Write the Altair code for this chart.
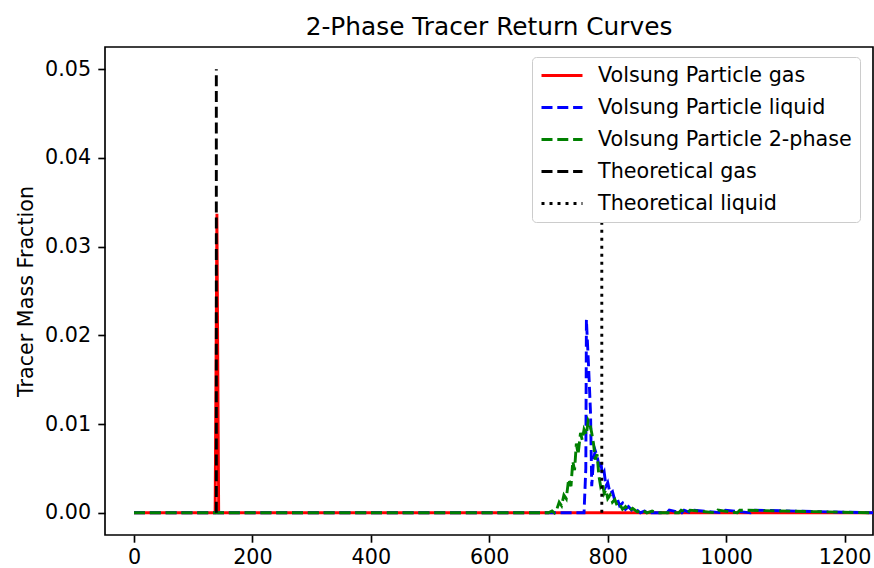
import altair as alt
import pandas as pd

# ---- data ----
series_names = [
    "Volsung Particle gas",
    "Volsung Particle liquid",
    "Volsung Particle 2-phase",
    "Theoretical gas",
    "Theoretical liquid",
]
series_colors = ["#ff0000", "#0000ff", "#008000", "#000000", "#000000"]

gas_t = [0, 137, 140, 143, 1248]
gas_v = [0, 0, 0.0337, 0, 0]

liq_t = [0, 760, 763, 764, 768, 771, 773, 776, 779, 782, 785, 788, 791, 794, 797,
         800, 804, 808, 812, 816, 820, 825, 830, 835, 842, 848, 855, 862, 870,
         900, 904, 925, 929, 940, 944, 995, 999, 1041, 1045, 1248]
liq_v = [0, 0, 0.0050, 0.0218, 0.0160, 0.0112, 0.0030, 0.0060, 0.0070, 0.0064,
         0.0054, 0.0060, 0.0042, 0.0046, 0.0030, 0.0034, 0.0022, 0.0024, 0.0014,
         0.0016, 0.0008, 0.0011, 0.0004, 0.0007, 0.0002, 0.0004, 0.0, 0.0002, 0.0,
         0.0, 0.0003, 0.0, 0.0003, 0.0, 0.0003, 0.0, 0.0003, 0.0, 0.0003, 0.0]

two_t = [0, 700, 706, 710, 714, 718, 722, 726, 730, 734, 738, 741, 744, 747, 750,
         754, 757, 760, 764, 767, 770, 773, 776, 779, 782, 785, 788, 791, 794, 797,
         800, 804, 808, 812, 816, 820, 825, 830, 836, 842, 850, 858, 866, 875, 885,
         920, 924, 935, 939, 982, 986, 1019, 1023, 1248]
two_v = [0, 0, 0.0002, 0, 0.0004, 0.0012, 0.0008, 0.0020, 0.0016, 0.0038, 0.0030,
         0.0058, 0.0048, 0.0078, 0.0066, 0.0090, 0.0082, 0.0094, 0.0088, 0.0104,
         0.0100, 0.0090, 0.0078, 0.0060, 0.0066, 0.0042, 0.0030, 0.0034, 0.0022,
         0.0026, 0.0016, 0.0020, 0.0012, 0.0015, 0.0008, 0.0010, 0.0004, 0.0007,
         0.0002, 0.0005, 0.0001, 0.0003, 0, 0.0002, 0, 0, 0.0003, 0, 0.0003, 0,
         0.0003, 0, 0.0003, 0]

theo_gas_t = [139, 139]
theo_gas_v = [0, 0.05]
theo_liq_t = [790, 790]
theo_liq_v = [0, 0.05]

x_ticks = [0, 200, 400, 600, 800, 1000, 1200]
y_ticks = [0.0, 0.01, 0.02, 0.03, 0.04, 0.05]

# ---- build table ----
rows = []
for name, ts, vs in zip(series_names,
                        [gas_t, liq_t, two_t, theo_gas_t, theo_liq_t],
                        [gas_v, liq_v, two_v, theo_gas_v, theo_liq_v]):
    for i, (t, v) in enumerate(zip(ts, vs)):
        rows.append({"series": name, "t": t, "v": v, "idx": i})
df = pd.DataFrame(rows)

FONT = "DejaVu Sans"
LW = 2.9
dash = [11.0, 4.8]
dot = [3.0, 5.0]


def make_legend():
    return alt.Legend(
        title=None, orient="none", legendX=427, legendY=10,
        symbolType="stroke", symbolSize=1681, symbolStrokeWidth=LW,
        labelFontSize=20.7, labelFont=FONT, labelColor="black", labelLimit=400,
        padding=8, rowPadding=10.0, clipHeight=21, labelOffset=14,
        fillColor="white", strokeColor="#cccccc",
        cornerRadius=4, zindex=1,
    )


color = alt.Color(
    "series:N",
    scale=alt.Scale(domain=series_names, range=series_colors),
    legend=make_legend(),
)
dash_enc = alt.StrokeDash(
    "series:N",
    scale=alt.Scale(domain=series_names, range=[[1, 0], dash, dash, dash, dot]),
    legend=make_legend(),
)

x_enc = alt.X("t:Q", scale=alt.Scale(domain=[-49, 1248], nice=False, zero=False),
              axis=alt.Axis(values=x_ticks, format="d", title=None, labelPadding=5.5))
y_enc = alt.Y("v:Q", scale=alt.Scale(domain=[-0.0025, 0.0525], nice=False, zero=False),
              axis=alt.Axis(values=y_ticks, format=".2f", title="Tracer Mass Fraction"))

layers = []
for name in series_names:
    layers.append(
        alt.Chart(df)
        .transform_filter(alt.datum.series == name)
        .mark_line(strokeWidth=LW, clip=True, strokeCap="butt")
        .encode(x=x_enc, y=y_enc, color=color, strokeDash=dash_enc,
                order=alt.Order("idx:Q"))
    )

chart = (
    alt.layer(*layers)
    .properties(
        width=768, height=488,
        title=alt.TitleParams("2-Phase Tracer Return Curves", fontSize=24.8, font=FONT,
                              fontWeight="normal", color="black", anchor="middle",
                              offset=7),
        autosize=alt.AutoSizeParams(type="none"),
        padding={"left": 105, "top": 47, "right": 1, "bottom": 33},
        background="white",
    )
    .configure_view(stroke="black", strokeWidth=1.66)
    .configure_axis(
        domain=False, grid=False, ticks=True, tickColor="black", tickSize=7.2,
        tickWidth=1.66, labelFont=FONT, labelFontSize=20.7, labelColor="black",
        labelPadding=7.2, titleFont=FONT, titleFontSize=20.7, titleColor="black",
        titleFontWeight="normal", titlePadding=8,
    )
)

chart.save("out.html", embed_options={"renderer": "svg", "actions": False})
